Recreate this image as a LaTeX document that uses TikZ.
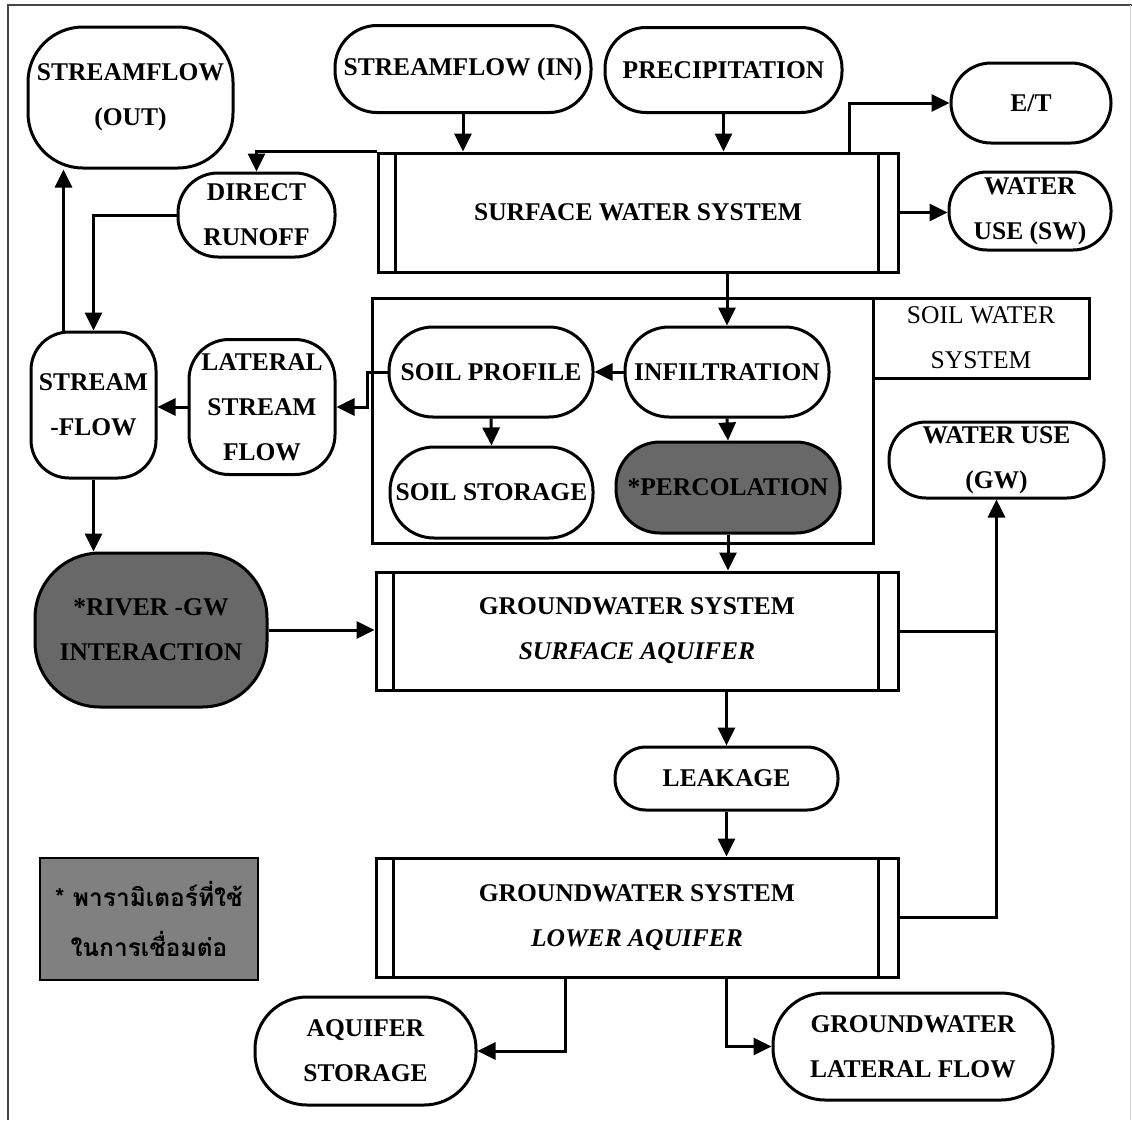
\documentclass[tikz,border=0pt]{standalone}
\usepackage{fontspec}
\setmainfont{Liberation Serif}
\newfontfamily\thaifont[Script=Thai]{Loma}
\usetikzlibrary{arrows.meta}
\definecolor{shade}{RGB}{104,104,104}
\definecolor{keyfill}{RGB}{128,128,128}
\definecolor{framegray}{RGB}{70,70,70}

\begin{document}
\begin{tikzpicture}[x=1pt,y=-1pt,
  lbl/.style={font=\bfseries\fontsize{25.5}{45}\selectfont, align=center},
  term/.style={draw, line width=3pt, rounded corners=#1, inner sep=0pt, lbl},
  term/.default=40pt,
  dims/.style 2 args={minimum width=#1pt, minimum height=#2pt},
  proc/.style={draw, line width=3pt, inner sep=0pt, lbl},
  flow/.style={line width=3pt, -{Triangle[length=18pt,width=17pt]}},
  link/.style={line width=3pt},
]
\useasboundingbox (0,0) rectangle (1132,1120);

% page frame
\draw[line width=2pt, framegray] (8,1120) -- (8,5) -- (1132,5);
\draw[line width=1pt, gray!35] (1130,5) -- (1130,1120);

% inputs and outputs of the surface system
\node[term=55pt, dims={205}{141}] (sfout) at (130.5,97.5) {STREAMFLOW\\(OUT)};
\node[term=42pt, dims={256}{87}] (sfin) at (463,69) {STREAMFLOW (IN)};
\node[term=41pt, dims={237}{85}] (precip) at (723.5,70) {PRECIPITATION};
\node[term=40pt, dims={160}{80}] (et) at (1031,103) {E/T};
\node[term=38pt, dims={162}{78}] (wusw) at (1030,211) {WATER\\USE (SW)};
\node[term=40pt, dims={157}{84}] (dr) at (256.5,215) {DIRECT\\RUNOFF};
\node[proc, dims={520}{119}] (surf) at (638,212.5) {SURFACE WATER SYSTEM};

% soil water system
\node[draw, line width=3pt, inner sep=0pt, dims={501}{245}] (soil) at (622.5,420.5) {};
\node[draw, line width=3pt, inner sep=0pt, dims={216}{80}, align=center,
      font=\fontsize{25.5}{45}\selectfont] (swlab) at (981,338) {SOIL WATER\\SYSTEM};
\node[term=44pt, dims={204}{90}] (sprof) at (491,372) {SOIL PROFILE};
\node[term=44pt, dims={203}{91}] (sstor) at (491.5,492.5) {SOIL STORAGE};
\node[term=44pt, dims={204}{90}] (infil) at (727,372) {INFILTRATION};
\node[term=44pt, dims={224}{91}, fill=shade] (perc) at (728,487.5) {*PERCOLATION};

% stream side
\node[term=38pt, dims={125}{146}] (sflow) at (93.5,405) {STREAM\\-FLOW};
\node[term=40pt, dims={146}{135}] (lat) at (262,407) {LATERAL\\STREAM\\FLOW};
\node[term=65pt, dims={232}{154}, fill=shade] (river) at (151,630) {*RIVER -GW\\INTERACTION};
\node[term=37pt, dims={215}{76}] (wugw) at (996.5,460) {WATER USE\\(GW)};

% groundwater systems
\node[proc, dims={522}{118}] (gws) at (637,631) {GROUNDWATER SYSTEM\\\textit{SURFACE AQUIFER}};
\node[term=31pt, dims={223}{63}] (leak) at (726.5,778.5) {LEAKAGE};
\node[proc, dims={522}{119}] (gwl) at (637,917.5) {GROUNDWATER SYSTEM\\\textit{LOWER AQUIFER}};
\node[term=52pt, dims={221}{108}] (aqst) at (365.5,1051) {AQUIFER\\STORAGE};
\node[term=52pt, dims={280}{107}] (gwlat) at (913,1046.5) {GROUNDWATER\\LATERAL FLOW};

% key
\node[draw, line width=1.5pt, fill=keyfill, inner sep=0pt, dims={218}{122}, align=center,
      font=\thaifont\bfseries\fontsize{24.5}{50}\selectfont] (key) at (149,919)
      {* พารามิเตอร์ที่ใช้\\ในการเชื่อมต่อ};

% side bars of the process boxes
\foreach \n in {surf,gws,gwl} {
  \draw[link] ([xshift=19pt]\n.north west) -- ([xshift=19pt]\n.south west);
  \draw[link] ([xshift=-21pt]\n.north east) -- ([xshift=-21pt]\n.south east);
}

% connectors
\draw[flow] (sfin.south) -- (sfin.south |- surf.north);
\draw[flow] (precip.south) -- (precip.south |- surf.north);
\draw[flow] ([xshift=211pt]surf.north) |- (et.west);
\draw[flow] (surf.east) -- (surf.east -| wusw.west);
\draw[flow] (surf.north west) -| (dr.north);
\draw[flow] (dr.west) -| (sflow.north);
\draw[flow] ([xshift=-30pt]sflow.north) -- ([xshift=-30pt]sflow.north |- sfout.south);
\draw[flow] (surf.south -| infil.north) -- (infil.north);
\draw[flow] (infil.west) -- (sprof.east);
\draw[flow] (sprof.south) -- (sstor.north);
\draw[flow] (infil.south) -- (perc.north);
\draw[flow] (perc.south) -- (perc.south |- gws.north);
\draw[flow] (sprof.west) -- ++(-20,0) |- (lat.east);
\draw[flow] (lat.west) -- (lat.west -| sflow.east);
\draw[flow] (sflow.south) -- (sflow.south |- river.north);
\draw[flow] (river.east) -- (river.east -| gws.west);
\draw[link] (gws.east) -- (gws.east -| wugw.south);
\draw[flow] (gwl.east) -| (wugw.south);
\draw[flow] (gws.south -| leak.north) -- (leak.north);
\draw[flow] (leak.south) -- (leak.south |- gwl.north);
\draw[flow] (gwl.south -| leak.south) |- (gwlat.west);
\draw[flow] ([xshift=-72pt]gwl.south) |- (aqst.east);
\end{tikzpicture}
\end{document}
